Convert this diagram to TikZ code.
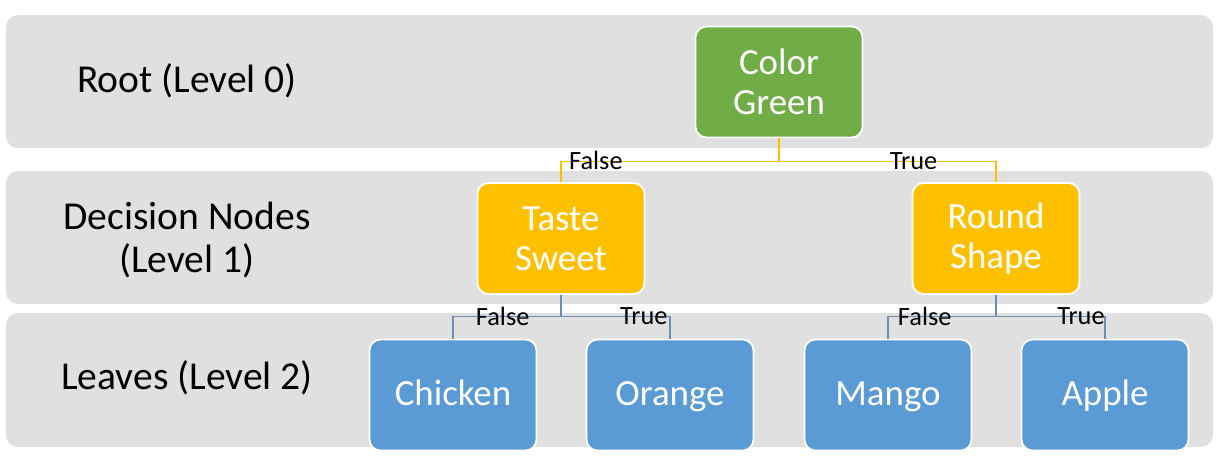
\documentclass[tikz,border=0pt]{standalone}
\usepackage{fontspec}
\setmainfont{Carlito}
\usetikzlibrary{positioning}

\definecolor{bandgray}{RGB}{224,224,224}
\definecolor{rootgreen}{RGB}{112,173,71}
\definecolor{splitgold}{RGB}{255,192,0}
\definecolor{leafblue}{RGB}{91,155,213}
\definecolor{leafline}{RGB}{110,140,180}

\begin{document}
\begin{tikzpicture}[x=0.02cm,y=-0.02cm,
  band/.style={fill=bandgray,rounded corners=0.24cm},
  box/.style={draw=white,line width=1pt,rounded corners=0.22cm,minimum width=3.34cm,minimum height=2.22cm,
    text=white,align=center,font=\fontsize{21}{23}\selectfont},
  rootbox/.style={box,fill=rootgreen},
  splitbox/.style={box,fill=splitgold},
  leafbox/.style={box,fill=leafblue,text height=16pt,text depth=4.6pt},
  levelname/.style={align=center,font=\fontsize{22.5}{24}\selectfont},
  edgetext/.style={font=\fontsize{15}{17}\selectfont,inner sep=0pt,yshift=0.3pt},
  goldline/.style={draw=splitgold,line width=0.6pt},
  blueline/.style={draw=leafline,line width=0.6pt}]
\useasboundingbox (0,0) rectangle (1225,461);

\fill[band] (6,15) rectangle (1213,148);
\fill[band] (6,171) rectangle (1213,304);
\fill[band] (6,313) rectangle (1213,447);

\node[levelname] (L0) at (187,81) {Root (Level 0)};
\node[levelname] (L1) at (187,240) {Decision Nodes\\(Level 1)};
\node[levelname] (L2) at (187,378) {Leaves (Level 2)};

\node[rootbox] (green) at (779,82) {Color\\Green};
\node[splitbox] (sweet) at (561,238.5) {Taste\\Sweet};
\node[splitbox] (round) at (996,238.5) {Round\\Shape};
\node[leafbox] (chicken) at (453,395) {Chicken};
\node[leafbox] (orange) at (670,395) {Orange};
\node[leafbox] (mango) at (888,395) {Mango};
\node[leafbox] (apple) at (1105,395) {Apple};

\draw[goldline] (green.south) -- ++(0,23) coordinate (g1) -| node[edgetext,pos=0.42]{False} (sweet.north);
\draw[goldline] (g1) -| node[edgetext,pos=0.31]{True} (round.north);

\draw[blueline] (sweet.south) -- ++(0,22) coordinate (s1) -| node[edgetext,pos=0.27]{False} (chicken.north);
\draw[blueline] (s1) -| node[edgetext,pos=0.38]{True} (orange.north);
\draw[blueline] (round.south) -- ++(0,22) coordinate (r1) -| node[edgetext,pos=0.33]{False} (mango.north);
\draw[blueline] (r1) -| node[edgetext,pos=0.39]{True} (apple.north);
\end{tikzpicture}
\end{document}
